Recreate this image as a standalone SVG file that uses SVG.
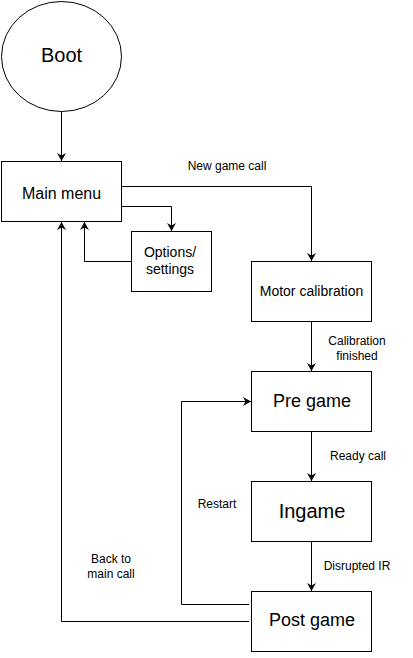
<svg xmlns="http://www.w3.org/2000/svg" width="413" height="658" viewBox="0 0 413 658">
<defs>
<marker id="arr" markerWidth="10" markerHeight="10" refX="8" refY="4.5" orient="auto" markerUnits="userSpaceOnUse">
<path d="M0,0 L8,4.5 L0,9 L2.5,4.5 Z" fill="#000"/>
</marker>
<style>
.n{fill:#fff;stroke:#000;stroke-width:1}
.c{fill:none;stroke:#000;stroke-width:1;marker-end:url(#arr)}
text{font-family:"Liberation Sans",Arial,sans-serif;fill:#000;text-anchor:middle}
.l{font-size:12px}
</style>
</defs>
<rect width="413" height="658" fill="#fff"/>
<g id="connectors">
<path class="c" d="M61.5,111.5 V161"/>
<path class="c" d="M116.5,186.5 H311.5 V261"/>
<path class="c" d="M121.5,206.5 H171.5 V231"/>
<path class="c" d="M131.5,261.5 H84.5 V222"/>
<path class="c" d="M249,621.5 H61.5 V222"/>
<path class="c" d="M249,604.5 H181.5 V401.5 H251"/>
<path class="c" d="M311.5,321.5 V371"/>
<path class="c" d="M311.5,431.5 V481"/>
<path class="c" d="M311.5,541.5 V591"/>
<text class="l" x="227" y="170">New game call</text>
<text class="l" x="357" y="345">Calibration</text>
<text class="l" x="357" y="360">finished</text>
<text class="l" x="358" y="460">Ready call</text>
<text class="l" x="217" y="508">Restart</text>
<text class="l" x="111" y="563">Back to</text>
<text class="l" x="111" y="578">main call</text>
<text class="l" x="357" y="570">Disrupted IR</text>
</g>
<g id="boot">
<ellipse class="n" cx="61.5" cy="56.5" rx="60" ry="55"/>
<text x="61.5" y="62" font-size="20">Boot</text>
</g>
<g id="main-menu">
<rect class="n" x="1.5" y="161.5" width="120" height="60"/>
<text x="61.5" y="199" font-size="16">Main menu</text>
</g>
<g id="options">
<rect class="n" x="131.5" y="231.5" width="80" height="60"/>
<text x="170" y="257" font-size="14">Options/</text>
<text x="170" y="273.5" font-size="14">settings</text>
</g>
<g id="motor-calibration">
<rect class="n" x="251.5" y="261.5" width="120" height="60"/>
<text x="311.5" y="296" font-size="14">Motor calibration</text>
</g>
<g id="pre-game">
<rect class="n" x="251.5" y="371.5" width="120" height="60"/>
<text x="312" y="407" font-size="18">Pre game</text>
</g>
<g id="ingame">
<rect class="n" x="251.5" y="481.5" width="120" height="60"/>
<text x="312" y="518" font-size="20">Ingame</text>
</g>
<g id="post-game">
<rect class="n" x="251.5" y="591.5" width="120" height="60"/>
<text x="312" y="626" font-size="18">Post game</text>
</g>
</svg>
